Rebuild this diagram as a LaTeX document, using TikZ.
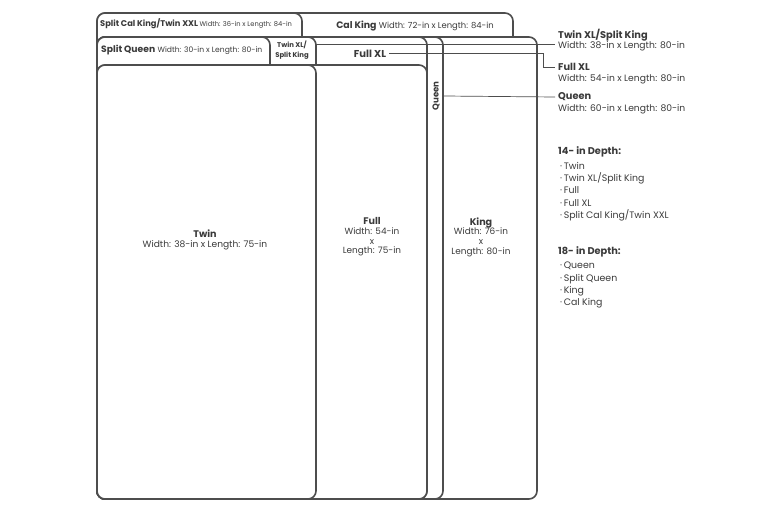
\documentclass[tikz,border=0pt]{standalone}
\usepackage{fontspec}
\setmainfont{Poppins}
\definecolor{linec}{HTML}{4D4D4D}
\definecolor{textc}{HTML}{3A3A3A}
\begin{document}
\begin{tikzpicture}[x=1pt,y=-1pt,
  bed/.style={draw=linec,fill=white,line width=1.6pt,rounded corners=8pt},
  lead/.style={draw=linec,line width=0.7pt},
  txt/.style={text=textc,inner sep=0pt,font=\fontsize{9.2}{11}\selectfont},
  ctr/.style={txt,align=center},
  lft/.style={txt,anchor=west,align=left},
  ttl/.style={lft,font=\fontsize{9.8}{11}\selectfont\bfseries}]
\useasboundingbox[fill=white] (0,0) rectangle (770,513);
% beds, back to front
\draw[bed] (97,13) rectangle (513,499);   % Cal King
\draw[bed] (97,13) rectangle (302,499);   % Split Cal King
\draw[bed] (97,37) rectangle (537,499);   % King
\draw[bed] (97,37) rectangle (443,499);   % Queen
\draw[bed] (97,37) rectangle (427,499);   % Full XL
\draw[bed] (97,37) rectangle (316,499);   % Twin XL
\draw[bed] (97,37) rectangle (270,499);   % Split Queen
\draw[bed] (97,65) rectangle (427,499);   % Full
\draw[bed] (97,65) rectangle (316,499);   % Twin
% tab labels
\node[lft] (scking) at (100,24) {{\fontsize{8.3}{9}\selectfont\bfseries Split Cal King/Twin XXL}\,{\fontsize{6.7}{7}\selectfont Width: 36-in x Length: 84-in}};
\node[txt,font=\fontsize{8.4}{10}\selectfont] (calking) at (415,26) {{\fontsize{9.4}{10}\selectfont\bfseries Cal King} Width: 72-in x Length: 84-in};
\node[lft] (squeen) at (101,50) {{\fontsize{9.2}{10}\selectfont\bfseries Split Queen} {\fontsize{7.6}{8}\selectfont Width: 30-in x Length: 80-in}};
\node[ctr,font=\fontsize{6.9}{10}\selectfont\bfseries] (twinxl) at (292,50) {Twin XL/\\Split King};
\node[txt,font=\fontsize{10}{11}\selectfont\bfseries] (fullxl) at (370,54) {Full XL};
\node[txt,font=\fontsize{8.6}{9}\selectfont\bfseries,rotate=90] (queen) at (436,96) {Queen};
% centre labels
\node[ctr,font=\fontsize{9.1}{10.5}\selectfont] (twin) at (205,240) {{\fontsize{9.6}{10}\selectfont\bfseries Twin}\\Width: 38-in x Length: 75-in};
\node[ctr,font=\fontsize{8.9}{9.6}\selectfont] (full) at (372,237) {{\fontsize{9.6}{10}\selectfont\bfseries Full}\\Width: 54-in\\x\\Length: 75-in};
\node[ctr,font=\fontsize{8.9}{9.6}\selectfont] (king) at (481,237) {{\fontsize{9.6}{10}\selectfont\bfseries King}\\Width: 76-in\\x\\Length: 80-in};
% right side labels
\node[ttl] (rtwinxl) at (558,35) {Twin XL/Split King};
\node[lft] (rtwinxld) at (558,46) {Width: 38-in x Length: 80-in};
\node[ttl] (rfullxl) at (558,67) {Full XL};
\node[lft] (rfullxld) at (558,79) {Width: 54-in x Length: 80-in};
\node[ttl] (rqueen) at (558,97) {Queen};
\node[lft] (rqueend) at (558,109) {Width: 60-in x Length: 80-in};
% leaders
\coordinate (t1) at (315,44);
\draw[lead] (t1) -- ([xshift=-3pt]rtwinxld.west |- t1);
\coordinate (f1) at (543,53);
\draw[lead] ([xshift=3pt]fullxl.east |- f1) -- (f1) |- ([xshift=-3pt]rfullxl.west);
\draw[lead] ([xshift=4pt]queen.south) -- ([xshift=-3pt]rqueen.west);
% depth lists
\node[ttl] (d14) at (558,152) {14- in Depth:};
\node[lft,font=\fontsize{9.4}{12.3}\selectfont,anchor=north west] (l14) at (560,162) {·\,Twin\\·\,Twin XL/Split King\\·\,Full\\·\,Full XL\\·\,Split Cal King/Twin XXL};
\node[ttl] (d18) at (558,252) {18- in Depth:};
\node[lft,font=\fontsize{9.4}{12.3}\selectfont,anchor=north west] (l18) at (560,262) {·\,Queen\\·\,Split Queen\\·\,King\\·\,Cal King};
\end{tikzpicture}
\end{document}
